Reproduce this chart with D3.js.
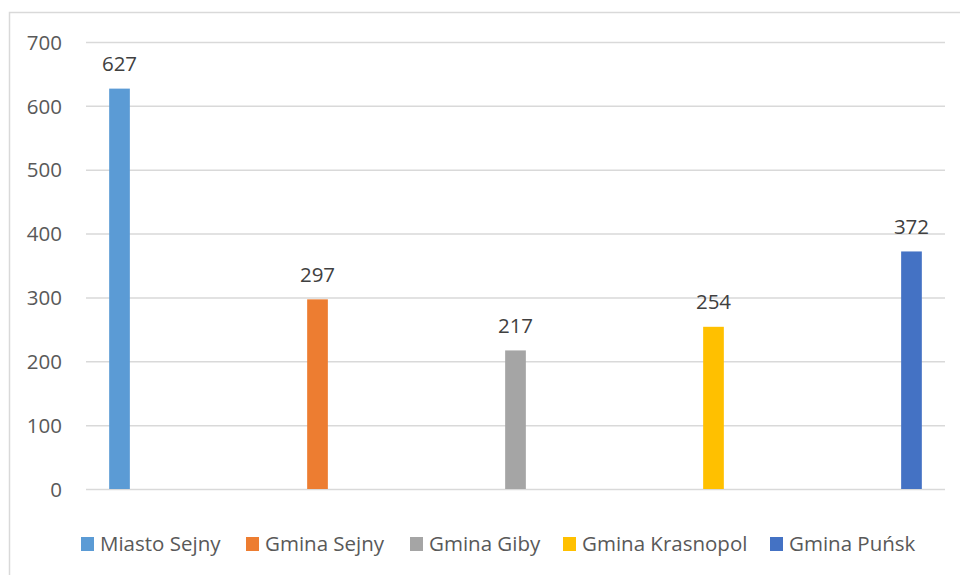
<!DOCTYPE html>
<html>
<head>
<meta charset="utf-8">
<script src="https://cdn.jsdelivr.net/npm/d3@7"></script>
<style>
  html, body { margin: 0; padding: 0; background: #fff; }
  svg { display: block; }
</style>
</head>
<body>
<svg id="chart" width="960" height="575"></svg>
<script>
const categories = ["Miasto Sejny", "Gmina Sejny", "Gmina Giby", "Gmina Krasnopol", "Gmina Puńsk"];
const values = [627, 297, 217, 254, 372];
const colors = ["#5b9bd5", "#ed7d31", "#a5a5a5", "#ffc000", "#4472c4"];
const yTicks = [0, 100, 200, 300, 400, 500, 600, 700];

const svg = d3.select("#chart");
const font = "'Open Sans', 'Liberation Sans', sans-serif";
const textColor = "#595959";
const fs = 20.5;

// frame
svg.append("path")
  .attr("d", "M9.5,575 L9.5,12.5 L960,12.5")
  .attr("fill", "none").attr("stroke", "#d9d9d9").attr("stroke-width", 1.5);

const plot = { left: 86, right: 945, top: 42, bottom: 489 };

const y = d3.scaleLinear().domain([0, 700]).range([plot.bottom, plot.top]);
const x = d3.scaleBand().domain(categories).range([plot.left, plot.right])
  .paddingInner(0.8955).paddingOuter(0.117);

// gridlines
const yAxis = d3.axisLeft(y).tickValues(yTicks).tickSize(-(plot.right - plot.left)).tickPadding(24);
const gy = svg.append("g").attr("transform", `translate(${plot.left},0)`).call(yAxis);
gy.select(".domain").remove();
gy.selectAll(".tick line").attr("stroke", "#d9d9d9").attr("stroke-width", 1.5);
gy.selectAll(".tick text").attr("fill", textColor).attr("font-family", font).attr("font-size", fs)
  .attr("dy", "0.35em");

// bars
svg.append("g").selectAll("rect").data(categories).join("rect")
  .attr("x", d => x(d))
  .attr("width", x.bandwidth())
  .attr("y", (d, i) => y(values[i]))
  .attr("height", (d, i) => y(0) - y(values[i]))
  .attr("fill", (d, i) => colors[i]);

// data labels
svg.append("g").selectAll("text").data(categories).join("text")
  .attr("x", d => x(d) + x.bandwidth() / 2)
  .attr("y", (d, i) => y(values[i]) - 17.5)
  .attr("text-anchor", "middle")
  .attr("fill", "#404040")
  .attr("font-family", font).attr("font-size", fs)
  .text((d, i) => values[i]);

// legend
const legendX = [81, 246, 410, 563, 770];
const lg = svg.append("g");
categories.forEach((c, i) => {
  const g = lg.append("g").attr("transform", `translate(${legendX[i]},537)`);
  g.append("rect").attr("width", 13).attr("height", 14).attr("fill", colors[i]);
  g.append("text").attr("x", 19).attr("y", 7).attr("dy", "0.35em")
    .attr("fill", textColor).attr("font-family", font).attr("font-size", fs)
    .text(c);
});
</script>
</body>
</html>
